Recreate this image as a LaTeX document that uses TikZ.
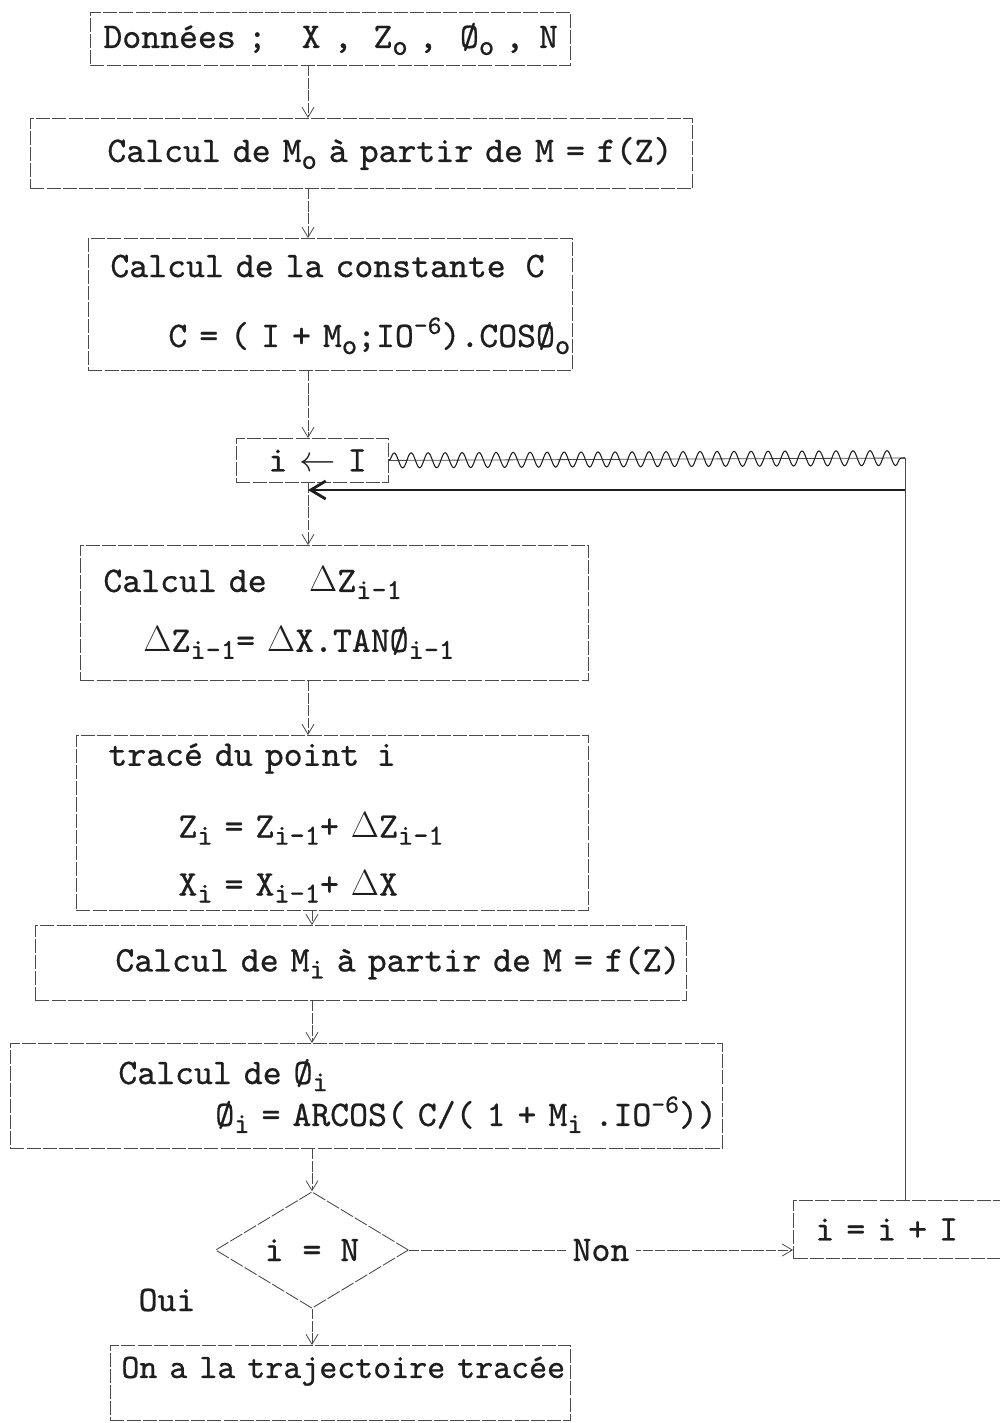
\documentclass[tikz,border=0pt]{standalone}
\usepackage{fontspec}
\usetikzlibrary{arrows.meta,shapes.geometric,decorations.pathmorphing}

\definecolor{ink}{HTML}{1E1E1E}
\definecolor{rule}{HTML}{4A4A4A}
\newfontfamily\twfont{lmmono10-regular.otf}[FakeBold=0.7]
\newcommand\tw{\twfont\fontsize{20.5}{21}\selectfont}
\newcommand\subt[1]{\raisebox{-0.45ex}{\fontsize{16.5}{16.5}\selectfont #1}}
\newcommand\supt[1]{\raisebox{0.85ex}{\fontsize{15}{15}\selectfont #1}}

\begin{document}
\begin{tikzpicture}[
        x=0.02cm, y=-0.02cm,
        box/.style={draw=rule, line width=0.5pt, dash pattern=on 8pt off 1.2pt, anchor=north west,
            inner xsep=0.1cm, inner ysep=0pt, align=left, font=\tw, text=ink},
        decision/.style={diamond, draw=rule, line width=0.5pt, dash pattern=on 8pt off 1.2pt,
            minimum width=3.86cm, minimum height=1.76cm, inner sep=0pt, font=\tw, text=ink},
        link/.style={draw=rule, line width=0.45pt, dash pattern=on 6pt off 1pt,
            -{Straight Barb[length=2mm, width=2.4mm]}},
        plain/.style={draw=rule, line width=0.45pt},
        scribble/.style={draw=ink, line width=0.6pt, decorate,
            decoration={snake, amplitude=0.15cm, segment length=0.34cm}},
        backarrow/.style={draw=ink, line width=1.6pt, -{Straight Barb[length=3mm, width=3.6mm]}}
    ]
    \fill[white] (0,0) rectangle (1000,1423);
    \useasboundingbox (0,0) rectangle (1000,1423);

    % main column
    \node[box, text width=9.4cm, minimum height=1.06cm] (data) at (90,12)
        {\mbox{\hspace*{0.16cm}Données ;\hspace{0.7cm}X\hspace{0.26cm},\hspace{0.42cm}Z\subt{o}\hspace{0.22cm},\hspace{0.45cm}Ø\subt{o}\hspace{0.22cm},\hspace{0.3cm}N}};
    \node[box, text width=13.04cm, minimum height=1.4cm] (mzero) at (30,118)
        {\mbox{\hspace*{1.44cm}Calcul de M\subt{o} à partir de M = f(Z)}};
    \node[box, text width=9.48cm, minimum height=2.64cm] (const) at (88,238)
        {\mbox{\hspace*{0.34cm}Calcul de la constante\hspace{0.4cm}C}\\[0.66cm]
         \mbox{\hspace*{1.5cm}C = ( I + M\subt{o};IO\supt{-6}).COSØ\subt{o}}};
    \node[box, text width=2.84cm, minimum height=0.88cm] (init) at (236,438)
        {\mbox{\hspace*{0.54cm}i $\leftarrow$ I}};
    \node[box, text width=9.96cm, minimum height=2.7cm] (dz) at (80,545)
        {\mbox{\hspace*{0.36cm}Calcul de\hspace{0.85cm}$\Delta$Z\subt{i-1}}\\[0.46cm]
         \mbox{\hspace*{1.16cm}$\Delta$Z\subt{i-1}= $\Delta$X.TANØ\subt{i-1}}};
    \node[box, text width=10.04cm, minimum height=3.5cm] (point) at (76,735)
        {\mbox{\hspace*{0.54cm}tracé du point\hspace{0.35cm}i}\\[0.7cm]
         \mbox{\hspace*{1.94cm}Z\subt{i} = Z\subt{i-1}+ $\Delta$Z\subt{i-1}}\\[0.42cm]
         \mbox{\hspace*{1.94cm}X\subt{i} = X\subt{i-1}+ $\Delta$X}};
    \node[box, text width=12.82cm, minimum height=1.5cm] (mi) at (35,925)
        {\mbox{\hspace*{1.5cm}Calcul de M\subt{i} à partir de M = f(Z)}};
    \node[box, text width=14.04cm, minimum height=2.1cm] (phi) at (10,1043)
        {\mbox{\hspace*{2.06cm}Calcul de Ø\subt{i}}\\[0.1cm]
         \mbox{\hspace*{4.0cm}Ø\subt{i} = ARCOS( C/( 1 + M\subt{i} .IO\supt{-6}))}};
    \node[decision] (test) at (312,1250) {i = N};
    \node[box, text width=3.94cm, minimum height=1.16cm] (incr) at (793,1200)
        {\mbox{\hspace*{0.34cm}i = i + I}};
    \node[box, text width=9cm, minimum height=1.5cm, text height=0.65cm, text depth=0.85cm] (done) at (110,1345)
        {\mbox{\hspace*{0.12cm}\fontsize{19.5}{21}\selectfont On a la trajectoire tracée}};
    \node[font=\tw, text=ink] (oui) at (167,1300) {Oui};

    \coordinate (axis) at (308,0);
    \coordinate (axistwo) at (312,0);
    \coordinate (corner) at (905,458);
    \coordinate (back) at (905,490);

    \draw[link] (data.south -| axis) -- (mzero.north -| axis);
    \draw[link] (mzero.south -| axis) -- (const.north -| axis);
    \draw[link] (const.south -| axis) -- (init.north -| axis);
    \draw[link] (init.south -| axis) -- (dz.north -| axis);
    \draw[link] (dz.south -| axis) -- (point.north -| axis);
    \draw[link] (point.south -| axistwo) -- (mi.north -| axistwo);
    \draw[link] (mi.south -| axistwo) -- (phi.north -| axistwo);
    \draw[link] (phi.south -| axistwo) -- (test.north);
    \draw[link] (test.south) -- (done.north -| test);
    \draw[link] (test.east) -- node[fill=white, font=\tw, text=ink, inner xsep=4pt] {Non} (test.east -| incr.west);

    % loop back (crossed out line)
    \draw[plain] (init.east) -- (corner);
    \draw[scribble] (init.east) -- (corner);
    \draw[plain] (incr.north -| corner) -- (corner);
    \draw[backarrow] (back) -- (back -| axis);
\end{tikzpicture}
\end{document}
